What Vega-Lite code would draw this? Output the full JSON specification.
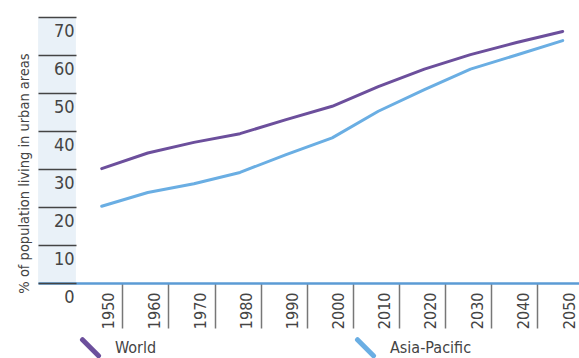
{
  "$schema": "https://vega.github.io/schema/vega-lite/v6.json",
  "autosize": {"type": "none"},
  "width": 541,
  "height": 266,
  "padding": {"left": 38, "top": 17, "right": 0, "bottom": 75},
  "config": {
    "view": {"stroke": null},
    "font": "DejaVu Sans Condensed, DejaVu Sans, sans-serif",
    "axisY": {
      "titleFontSize": 14.5,
      "titleFontWeight": "normal",
      "titleColor": "#444444",
      "titleX": -10,
      "titleY": 156,
      "titleAngle": -90,
      "titleAlign": "center",
      "titleBaseline": "alphabetic",
      "labelOverlap": false,
      "grid": false,
      "domain": false,
      "tickSize": -38,
      "tickColor": "#444444",
      "tickWidth": 1.5,
      "labelAlign": "right",
      "labelBaseline": "top",
      "labelOffset": 5,
      "labelPadding": 2,
      "labelFontSize": 18,
      "labelColor": "#444444"
    }
  },
  "datasets": {
    "band": [{"x0": 1936.2, "x1": 1944.4, "y0": 0, "y1": 70}],
    "series": [
      {"year": 1950, "region": "World", "pct": 30.1},
      {"year": 1960, "region": "World", "pct": 34.2},
      {"year": 1970, "region": "World", "pct": 37.0},
      {"year": 1980, "region": "World", "pct": 39.3},
      {"year": 1990, "region": "World", "pct": 43.0},
      {"year": 2000, "region": "World", "pct": 46.5},
      {"year": 2010, "region": "World", "pct": 51.7},
      {"year": 2020, "region": "World", "pct": 56.3},
      {"year": 2030, "region": "World", "pct": 60.1},
      {"year": 2040, "region": "World", "pct": 63.3},
      {"year": 2050, "region": "World", "pct": 66.2},
      {"year": 1950, "region": "Asia-Pacific", "pct": 20.2},
      {"year": 1960, "region": "Asia-Pacific", "pct": 23.8},
      {"year": 1970, "region": "Asia-Pacific", "pct": 26.1},
      {"year": 1980, "region": "Asia-Pacific", "pct": 29.1},
      {"year": 1990, "region": "Asia-Pacific", "pct": 33.8},
      {"year": 2000, "region": "Asia-Pacific", "pct": 38.2},
      {"year": 2010, "region": "Asia-Pacific", "pct": 45.2},
      {"year": 2020, "region": "Asia-Pacific", "pct": 50.9},
      {"year": 2030, "region": "Asia-Pacific", "pct": 56.3},
      {"year": 2040, "region": "Asia-Pacific", "pct": 60.0},
      {"year": 2050, "region": "Asia-Pacific", "pct": 63.8}
    ]
  },
  "layer": [
    {
      "data": {"name": "band"},
      "mark": {"type": "rect", "color": "#e9f1f8"},
      "encoding": {
        "x": {"field": "x0", "type": "quantitative", "scale": {"domain": [1936.18, 2053.54], "nice": false, "zero": false}},
        "x2": {"field": "x1"},
        "y": {
          "field": "y0", "type": "quantitative",
          "scale": {"domain": [0, 70], "nice": false},
          "axis": {"values": [0, 10, 20, 30, 40, 50, 60, 70], "title": "% of population living in urban areas", "zindex": 2}
        },
        "y2": {"field": "y1"}
      }
    },
    {
      "data": {"name": "series"},
      "mark": {"type": "line", "strokeWidth": 3, "strokeCap": "round", "strokeJoin": "round"},
      "encoding": {
        "x": {
          "field": "year", "type": "quantitative",
          "axis": {
            "title": null,
            "values": [1950, 1960, 1970, 1980, 1990, 2000, 2010, 2020, 2030, 2040, 2050],
            "format": "d",
            "grid": false,
            "labelOverlap": false,
            "domainColor": "#5b9bd5",
            "domainWidth": 2.5,
            "tickColor": "#777777",
            "tickWidth": 1.5,
            "tickSize": 45,
            "tickOffset": 20.6,
            "labelOffset": -14,
            "labelAngle": -90,
            "labelPadding": -36,
            "labelFontSize": 16,
            "labelColor": "#444444",
            "zindex": 2
          }
        },
        "y": {
          "field": "pct", "type": "quantitative",
          "axis": {"values": [0, 10, 20, 30, 40, 50, 60, 70], "title": "% of population living in urban areas", "zindex": 2}
        },
        "color": {
          "field": "region", "type": "nominal",
          "scale": {"domain": ["World", "Asia-Pacific"], "range": ["#6c4f9c", "#6aaee3"]},
          "legend": {
            "title": null,
            "orient": "none",
            "direction": "horizontal",
            "legendX": 42,
            "legendY": 320,
            "padding": 0,
            "symbolType": "M-1,-1L1,1",
            "symbolSize": 256,
            "symbolStrokeWidth": 5,
            "symbolFillColor": "transparent",
            "labelFontSize": 16,
            "labelColor": "#444444",
            "labelOffset": 14,
            "labelBaseline": "middle",
            "columnPadding": 190,
            "gridAlign": "each",
            "encode": {"symbols": {"update": {"strokeCap": {"value": "round"}}}}
          }
        }
      }
    }
  ]
}
